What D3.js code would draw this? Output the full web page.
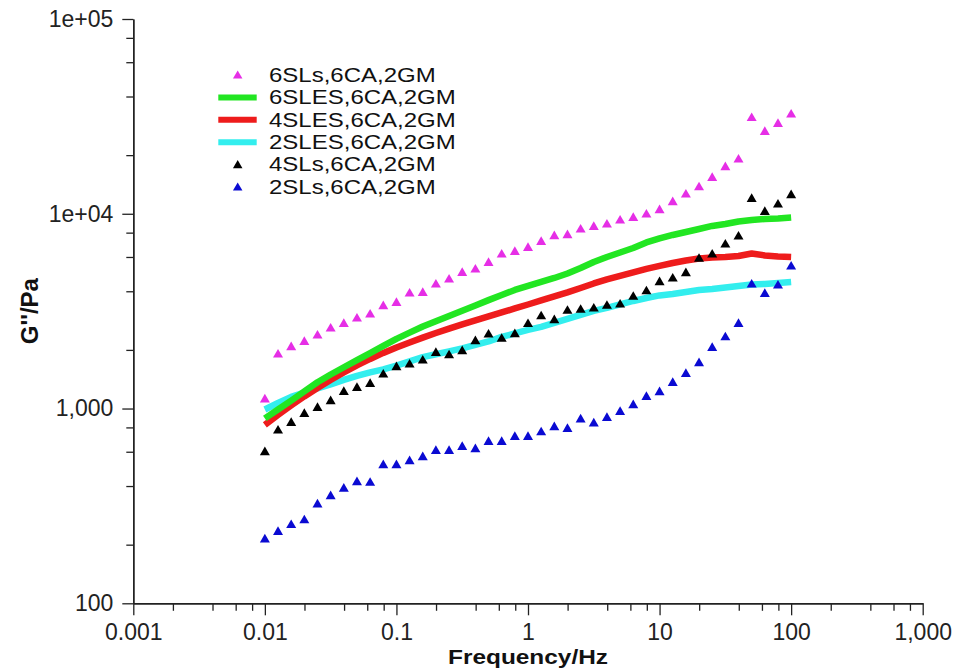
<!DOCTYPE html>
<html>
<head>
<meta charset="utf-8">
<script src="https://cdn.jsdelivr.net/npm/d3@7"></script>
<style>
  html, body { margin: 0; padding: 0; background: #fff; }
  svg { display: block; }
  text { font-family: "Liberation Sans", Arial, Helvetica, sans-serif; }
</style>
</head>
<body>
<svg id="chart" width="957" height="669"></svg>
<script>
// Frequency sweep, 10 points per decade (Hz)
const freq = [
  0.01, 0.01259, 0.01585, 0.01995, 0.02512, 0.03162, 0.03981, 0.05012, 0.0631, 0.07943,
  0.1, 0.1259, 0.1585, 0.1995, 0.2512, 0.3162, 0.3981, 0.5012, 0.631, 0.7943,
  1, 1.259, 1.585, 1.995, 2.512, 3.162, 3.981, 5.012, 6.31, 7.943,
  10, 12.59, 15.85, 19.95, 25.12, 31.62, 39.81, 50.12, 63.1, 79.43, 100
];

// Loss modulus G'' (Pa) for each formulation
const g6SLs = [1130, 1923, 2096, 2231, 2406, 2614, 2761, 2942, 3086, 3403, 3538, 3954, 3983, 4397,
  4666, 5045, 5250, 5677, 6270, 6467, 6777, 7277, 7785, 7877, 8430, 8690, 8938, 9372, 9665, 10060,
  10590, 11640, 12740, 13890, 15500, 17600, 19270, 31500, 26700, 29350, 32800];
const g6SLES = [890, 988, 1098, 1224, 1365, 1495, 1629, 1772, 1927, 2096, 2280, 2452, 2636, 2807,
  2988, 3181, 3382, 3602, 3825, 4062, 4259, 4466, 4681, 4937, 5270, 5656, 6000, 6328, 6674, 7122,
  7467, 7783, 8064, 8356, 8658, 8864, 9131, 9294, 9404, 9461, 9572];
const g4SLES = [824, 927, 1037, 1154, 1276, 1403, 1532, 1664, 1797, 1930, 2059, 2185, 2312, 2441,
  2571, 2702, 2833, 2970, 3113, 3264, 3421, 3589, 3763, 3945, 4160, 4387, 4600, 4794, 4997, 5208,
  5396, 5590, 5758, 5896, 5966, 6000, 6073, 6255, 6109, 6037, 6000];
const g2SLES = [989, 1068, 1147, 1209, 1268, 1329, 1402, 1470, 1532, 1588, 1660, 1745, 1835, 1900,
  1964, 2035, 2121, 2210, 2331, 2429, 2532, 2624, 2750, 2884, 3023, 3170, 3284, 3423, 3567, 3696,
  3808, 3876, 3968, 4063, 4112, 4185, 4260, 4336, 4361, 4414, 4466];
const g4SLs = [606, 783, 857, 953, 1023, 1107, 1236, 1295, 1358, 1518, 1655, 1708, 1790, 1959,
  1906, 2000, 2250, 2436, 2317, 2445, 2757, 3022, 2884, 3226, 3263, 3312, 3422, 3473, 3806, 4061,
  4519, 4721, 5027, 5966, 6267, 7060, 7757, 12100, 10370, 11320, 12640];
const g2SLs = [216, 236, 256, 271, 327, 360, 394, 425, 422, 520, 520, 545, 571, 615, 615, 645,
  628, 684, 684, 726, 726, 767, 814, 798, 892, 851, 909, 976, 1056, 1165, 1232, 1375, 1529, 1735,
  2078, 2358, 2761, 4397, 3936, 4345, 5443];

// Series in legend order
const seriesNames = ["6SLs,6CA,2GM", "6SLES,6CA,2GM", "4SLES,6CA,2GM", "2SLES,6CA,2GM", "4SLs,6CA,2GM", "2SLs,6CA,2GM"];
const seriesValues = [g6SLs, g6SLES, g4SLES, g2SLES, g4SLs, g2SLs];
const seriesKinds = ["marker", "line", "line", "line", "marker", "marker"];
const seriesColors = ["#e62ee6", "#22e622", "#ee1c1c", "#33eeee", "#000000", "#0a0ad2"];

// Axis ticks
const xMajor = [0.001, 0.01, 0.1, 1, 10, 100, 1000];
const xMajorLabels = ["0.001", "0.01", "0.1", "1", "10", "100", "1,000"];
const yMajor = [100, 1000, 10000, 100000];
const yMajorLabels = ["100", "1,000", "1e+04", "1e+05"];
const minorSteps = [2, 4, 6, 8];

const svg = d3.select("#chart");
const axisColor = "#222";

const x = d3.scaleLog().domain([0.001, 1000]).range([133.3, 922.7]);
const y = d3.scaleLog().domain([100, 100000]).range([603.3, 19]);

function minorTicks(major) {
  const out = [];
  for (let i = 0; i < major.length - 1; i++) minorSteps.forEach(m => out.push(major[i] * m));
  return out;
}

function styleAxis(g) {
  g.select(".domain").attr("stroke", axisColor).attr("stroke-width", 1.4);
  g.selectAll(".tick line").attr("stroke", axisColor).attr("stroke-width", 1.3);
  g.selectAll(".tick text").attr("fill", axisColor).style("font-size", "23px")
    .style("font-family", '"Liberation Sans", Arial, sans-serif');
}

// x axis
const xAxisG = svg.append("g").attr("transform", `translate(0,${y.range()[0]})`);
xAxisG.append("g")
  .call(d3.axisBottom(x).tickValues(minorTicks(xMajor)).tickSize(7.5).tickSizeOuter(0).tickFormat(""))
  .call(styleAxis);
xAxisG.append("g")
  .call(d3.axisBottom(x).tickValues(xMajor).tickSize(12).tickPadding(8).tickSizeOuter(0)
    .tickFormat((d, i) => xMajorLabels[i]))
  .call(styleAxis);

// y axis
const yAxisG = svg.append("g").attr("transform", `translate(${x.range()[0]},0)`);
yAxisG.append("g")
  .call(d3.axisLeft(y).tickValues(minorTicks(yMajor)).tickSize(7).tickSizeOuter(0).tickFormat(""))
  .call(styleAxis);
yAxisG.append("g")
  .call(d3.axisLeft(y).tickValues(yMajor).tickSize(11).tickPadding(9).tickSizeOuter(0)
    .tickFormat((d, i) => yMajorLabels[i]))
  .call(styleAxis);

// axis titles
svg.append("text")
  .attr("x", (x.range()[0] + x.range()[1]) / 2).attr("y", 664.3)
  .attr("text-anchor", "middle").attr("font-weight", "bold").attr("font-size", 21).attr("fill", "#111")
  .attr("textLength", 160).attr("lengthAdjust", "spacingAndGlyphs")
  .text("Frequency/Hz");
svg.append("text")
  .attr("transform", `translate(38,${(y.range()[0] + y.range()[1]) / 2}) rotate(-90)`)
  .attr("text-anchor", "middle").attr("font-weight", "bold").attr("font-size", 24).attr("fill", "#111")
  .text("G''/Pa");

// upward triangle centred on its bounding box
function triangle(side) {
  const h = side * Math.sqrt(3) / 2;
  return `M0,${-h / 2}L${side / 2},${h / 2}L${-side / 2},${h / 2}Z`;
}

const plot = svg.append("g");
const line = d3.line().x(d => x(d[0])).y(d => y(d[1]));

// lines underneath, then markers
const lineOrder = [3, 2, 1];
lineOrder.forEach(i => {
  plot.append("path")
    .datum(freq.map((f, k) => [f, seriesValues[i][k]]))
    .attr("d", line)
    .attr("fill", "none")
    .attr("stroke", seriesColors[i])
    .attr("stroke-width", 6.5)
    .attr("stroke-linejoin", "round");
});

const markerOrder = [0, 4, 5];
markerOrder.forEach(i => {
  plot.append("g").selectAll("path")
    .data(freq.map((f, k) => [f, seriesValues[i][k]]))
    .join("path")
    .attr("transform", d => `translate(${x(d[0])},${y(d[1])})`)
    .attr("d", triangle(10))
    .attr("fill", seriesColors[i]);
});

// legend: compact rows, labels stretched to their full-size width
const legend = svg.append("g");
const legendMid = 130.5, legendStep = 22.4, legendFont = 20;
seriesNames.forEach((name, i) => {
  const cy = legendMid + (i - (seriesNames.length - 1) / 2) * legendStep;
  if (seriesKinds[i] === "line") {
    legend.append("line")
      .attr("x1", 218.3).attr("x2", 256.7)
      .attr("y1", cy + 0.5).attr("y2", cy + 0.5)
      .attr("stroke", seriesColors[i]).attr("stroke-width", 6);
  } else {
    legend.append("path")
      .attr("transform", `translate(237.7,${cy})`)
      .attr("d", triangle(9.5))
      .attr("fill", seriesColors[i]);
  }
  const t = legend.append("text")
    .attr("x", 269).attr("y", cy + legendFont * 0.36)
    .attr("font-size", 24).attr("fill", "#111")
    .text(name);
  const fullWidth = t.node().getComputedTextLength();
  t.attr("font-size", legendFont)
    .attr("textLength", fullWidth)
    .attr("lengthAdjust", "spacingAndGlyphs");
});
</script>
</body>
</html>
